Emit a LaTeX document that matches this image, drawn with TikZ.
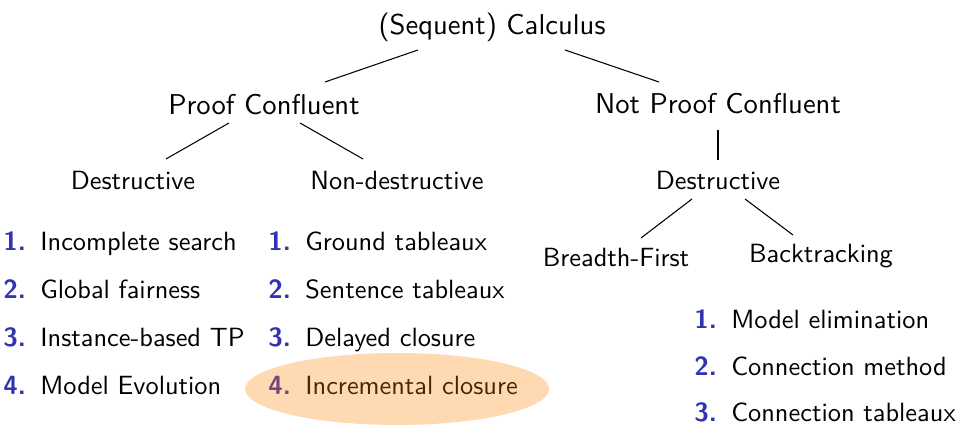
\documentclass[tikz,border=0pt]{standalone}
\usepackage{fontspec}
\setsansfont{lmsans10-regular.otf}[BoldFont=lmsans10-bold.otf]
\usetikzlibrary{calc}
\definecolor{itemblue}{rgb}{0.2,0.2,0.7}
\newcommand{\numlabel}[1]{\makebox[0.74cm][l]{\textbf{\color{itemblue}#1.}}}

\begin{document}
\begin{tikzpicture}[x=0.02cm, y=-0.02cm,
  every node/.style={font=\sffamily\fontsize{15}{18}\selectfont, inner sep=0pt},
  toplevel/.style={font=\sffamily\fontsize{16.3}{19}\selectfont, anchor=base},
  sublevel/.style={anchor=base},
  listitem/.style={anchor=base west},
  edge/.style={line width=0.6pt}]

  \useasboundingbox (0,0) rectangle (961,425);

  \node[toplevel] (root) at (492,35) {(Sequent) Calculus};
  \node[toplevel] (pc) at (264,115) {Proof Confluent};
  \node[toplevel] (npc) at (718,114) {Not Proof Confluent};

  \node[sublevel] (ld) at (133,190) {Destructive};
  \node[sublevel] (nd) at (397,190) {Non-destructive};
  \node[sublevel] (rd) at (718,190) {Destructive};
  \node[sublevel] (bf) at (616,267) {Breadth-First};
  \node[sublevel] (bt) at (821,263) {Backtracking};

  \draw[edge] ($(root.base)+(-74,15)$) -- ($(pc.base)+(61,-33)$);
  \draw[edge] ($(root.base)+(73,15)$) -- ($(npc.base)+(-59,-32)$);
  \draw[edge] ($(pc.base)+(-35,8)$) -- ($(ld.base)+(33,-31)$);
  \draw[edge] ($(pc.base)+(36,8)$) -- ($(nd.base)+(-34,-31)$);
  \draw[edge] ($(npc.base)+(0,16)$) -- ($(rd.base)+(0,-30)$);
  \draw[edge] ($(rd.base)+(-26,9)$) -- ($(bf.base)+(25,-29)$);
  \draw[edge] ($(rd.base)+(27,9)$) -- ($(bt.base)+(-28,-28)$);

  % destructive, proof confluent
  \node[listitem] (l1) at (3,251) {\numlabel{1}Incomplete search};
  \node[listitem] (l2) at (3,299) {\numlabel{2}Global fairness};
  \node[listitem] (l3) at (3,347) {\numlabel{3}Instance-based TP};
  \node[listitem] (l4) at (3,395) {\numlabel{4}Model Evolution};

  % non-destructive
  \node[listitem] (m1) at (268,251) {\numlabel{1}Ground tableaux};
  \node[listitem] (m2) at (268,299) {\numlabel{2}Sentence tableaux};
  \node[listitem] (m3) at (268,347) {\numlabel{3}Delayed closure};
  \node[listitem] (m4) at (268,395) {\numlabel{4}Incremental closure};

  % not proof confluent
  \node[listitem] (r1) at (694,329) {\numlabel{1}Model elimination};
  \node[listitem] (r2) at (694,376) {\numlabel{2}Connection method};
  \node[listitem] (r3) at (694,422) {\numlabel{3}Connection tableaux};

  \fill[orange, opacity=0.3] ($(m4.center)+(4,3)$) ellipse [x radius=3.04cm, y radius=0.72cm];

\end{tikzpicture}
\end{document}
